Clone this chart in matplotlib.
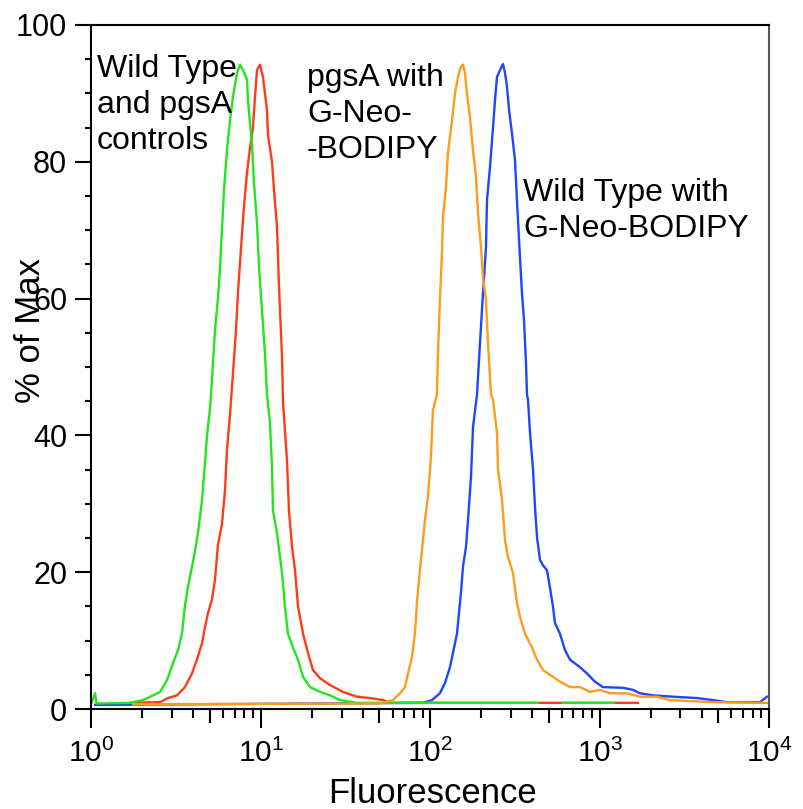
import numpy as np
import matplotlib.pyplot as plt
from matplotlib.ticker import FixedLocator, FuncFormatter, MultipleLocator, NullLocator

plt.rcParams['font.family'] = ['Liberation Sans', 'DejaVu Sans']
plt.rcParams['mathtext.fontset'] = 'custom'
plt.rcParams['mathtext.rm'] = 'Liberation Sans'

# histogram traces: fluorescence value, % of max
green_x = [1.0, 1.05, 1.07, 1.69, 2.01, 2.31, 2.54, 2.79, 3.03, 3.24, 3.42, 3.56, 3.71, 3.92,
           4.08, 4.25, 4.49, 4.68, 4.81, 5.01, 5.14, 5.36, 5.58, 5.74, 5.89, 6.06, 6.31, 6.57,
           6.84, 7.23, 7.53, 7.84, 8.28, 8.39, 8.62, 8.86, 9.10, 9.49, 9.75, 10.15, 10.57, 10.86,
           11.31, 11.63, 11.79, 12.45, 13.33, 13.87, 14.45, 15.47, 16.57, 17.74, 19.5, 22.35,
           25.58, 29.3, 36.9, 432, 433, 607, 1215]
green_y = [0.9, 2.3, 0.8, 0.9, 1.3, 2.0, 2.5, 4.2, 6.7, 8.6, 11, 15, 17.8, 20.8,
           23, 25.7, 30.5, 36, 40, 44, 48, 55.4, 60, 64.6, 70, 76, 81.7, 86,
           89.5, 93, 94.2, 93.4, 92, 89, 85.7, 82.7, 77, 71, 64.6, 58.3, 52, 46,
           42, 35.4, 29, 25.7, 19.9, 15, 11, 9, 7.2, 4.7, 3.2, 2.5,
           2.0, 1.3, 0.9, 0.9, np.nan, 0.9, 0.9]

red_x = [1.7, 2.54, 2.83, 3.20, 3.56, 3.92, 4.19, 4.49, 4.68, 4.87, 5.14, 5.36, 5.58, 5.89,
         6.14, 6.31, 6.57, 6.84, 7.13, 7.33, 7.64, 7.94, 8.28, 8.62, 8.98, 9.23, 9.49, 9.88,
         10.29, 10.57, 10.86, 11.01, 11.63, 11.95, 12.45, 12.79, 13.33, 13.5, 14.26, 14.65,
         15.27, 15.9, 16.57, 17.74, 18.97, 20.3, 22.35, 25.58, 30.5, 36.9, 44.0, 52.6, 57.8, 1683]
red_y = [0.9, 1.0, 1.6, 2.0, 3.2, 5.2, 7.2, 9.6, 12, 14, 16, 18.9, 24, 27,
         32, 38, 43, 49, 55.4, 61, 67.5, 73.4, 78.4, 82, 85, 89.5, 93.4, 94.2,
         92.4, 90, 87.6, 84, 80, 75.9, 70.5, 61.7, 51.5, 45, 36.4, 29,
         23.7, 20.3, 15, 11, 8.2, 5.7, 4.5, 3.5, 2.5, 1.8, 1.6, 1.3, 0.9, 0.9]

orange_x = [1.76, 50.5, 60.2, 66.3, 70.9, 73.9, 78.0, 81.2, 83.4, 86.9, 90.5, 93.0, 96.9, 100.9,
            103.7, 109.5, 111.0, 114.1, 117.3, 118.9, 123.8, 127.2, 134.4, 139.9, 145.8, 151.8,
            156.0, 160.3, 164.7, 171.6, 178.8, 186.2, 191.3, 199.3, 204.8, 213.3, 219.2, 228.3,
            234.6, 247.7, 251.2, 265.1, 276.2, 287.7, 307.8, 325.0, 338.5, 362.4, 398.7, 426.9,
            462.9, 508.8, 583.2, 668.9, 767, 877, 1004, 1150, 1450, 1730, 2181, 2603, 4670, 9730]
orange_y = [0.7, 0.8, 1.3, 2.3, 3.2, 5.2, 7.6, 11, 15.5, 20.3, 24.7, 27.6, 31, 36.8,
            43.7, 46, 52, 60, 66.7, 72, 76.3, 81.3, 86, 90, 92.4, 93.9,
            94.2, 93, 90, 86.5, 81.7, 77.8, 72.5, 67.5, 63, 59.8, 53.5, 46,
            45.2, 40.4, 35, 30.6, 24.7, 22.2, 19.9, 15.5, 13.5, 11, 9, 7.2,
            5.7, 5.0, 4.0, 3.2, 3.2, 2.5, 2.8, 2.3, 2.3, 1.8, 1.8, 1.3, 1.0, 0.9]

blue_x = [1.05, 90.5, 102.3, 114.1, 122.1, 130.7, 136.2, 143.8, 147.7, 151.8, 156.0, 162.5, 167.0,
          174.0, 178.8, 188.8, 196.6, 204.8, 213.3, 216.2, 225.2, 234.6, 241.1, 247.7, 261.5,
          268.8, 276.2, 283.8, 291.7, 303.6, 316.2, 325.0, 338.5, 347.9, 357.5, 367.4, 372.5,
          377.6, 388.0, 404.2, 415.4, 426.9, 444.6, 462.9, 488.5, 508.8, 529.9, 544.5, 583.2,
          624.6, 668.9, 767, 842, 938, 1045, 1373, 1573, 1730, 2064, 2713, 3757, 4670, 5650,
          8850, 9730]
blue_y = [0.6, 0.9, 1.3, 2.3, 3.8, 6.1, 8.2, 11, 14, 17, 20.8, 23.7, 27.6,
          34, 41.2, 46, 53.5, 60.8, 67.5, 74.4, 79.2, 85, 89, 92.4, 93.7,
          94.3, 93, 91, 87.6, 84.2, 80.3, 74.4, 66, 60.8, 56.9, 50.6, 46,
          45.2, 40.4, 35, 29.5, 25.1, 21.8, 21, 20.3, 17.8, 15, 12.6, 11,
          8.6, 7.2, 6.1, 5.2, 4.0, 3.2, 3.1, 2.8, 2.3, 2.0, 1.8, 1.6, 1.3, 1.0,
          1.0, 1.8]

x_ticks = [1, 10, 100, 1000, 10000]
y_ticks = [0, 20, 40, 60, 80, 100]

fig = plt.figure(figsize=(8.04, 8.09), dpi=100)
ax = fig.add_axes([0.1138, 0.1236, 0.8427, 0.8455])

ax.plot(blue_x, blue_y, color='#1f45ff', lw=1.7)
ax.plot(red_x, red_y, color='#ff3b1c', lw=1.7)
ax.plot(green_x, green_y, color='#22e51e', lw=1.7)
ax.plot(orange_x, orange_y, color='#ff9c1a', lw=1.7)

ax.set_xscale('log')
ax.set_xlim(1, 10000)
ax.set_ylim(0, 100)

ax.xaxis.set_major_locator(FixedLocator(x_ticks))
ax.xaxis.set_major_formatter(FuncFormatter(lambda v, p: r'$\mathregular{10^{%d}}$' % round(np.log10(v))))
ax.xaxis.set_minor_locator(FixedLocator([m * 10 ** d for d in range(4) for m in (2, 3, 4, 6, 7, 8, 9)]))
ax.set_yticks(y_ticks)
ax.yaxis.set_minor_locator(MultipleLocator(5))

# the 5s get a medium tick
sec = ax.secondary_xaxis('bottom')
sec.set_xticks([5, 50, 500, 5000])
sec.xaxis.set_minor_locator(NullLocator())
sec.tick_params(length=10, width=1.5, labelbottom=False)
sec.spines['bottom'].set_visible(False)

ax.tick_params(axis='both', which='both', width=1.5, direction='out')
ax.tick_params(axis='x', which='major', length=13.7, pad=8, labelsize=21.5)
ax.tick_params(axis='x', which='minor', length=6.5)
ax.tick_params(axis='y', which='major', length=11.5, pad=6, labelsize=22)
ax.tick_params(axis='y', which='minor', length=4.3)

for s in ax.spines.values():
    s.set_linewidth(1.5)
ax.spines['right'].set_color('#555555')

ax.set_xlabel('Fluorescence', fontsize=25)
ax.set_ylabel('% of Max', fontsize=25)
ax.xaxis.set_label_coords(0.504, -0.099)
ax.yaxis.set_label_coords(-0.066, 0.554)

ax.text(0.0074, 0.957, 'Wild Type\nand pgsA\ncontrols', transform=ax.transAxes,
        fontsize=23, va='top', ha='left', linespacing=1.25)
ax.text(0.318, 0.944, 'pgsA with\nG-Neo-\n-BODIPY', transform=ax.transAxes,
        fontsize=23, va='top', ha='left', linespacing=1.25)
ax.text(0.637, 0.776, 'Wild Type with\nG-Neo-BODIPY', transform=ax.transAxes,
        fontsize=23, va='top', ha='left', linespacing=1.25)

fig.savefig('out.png', dpi=100)
